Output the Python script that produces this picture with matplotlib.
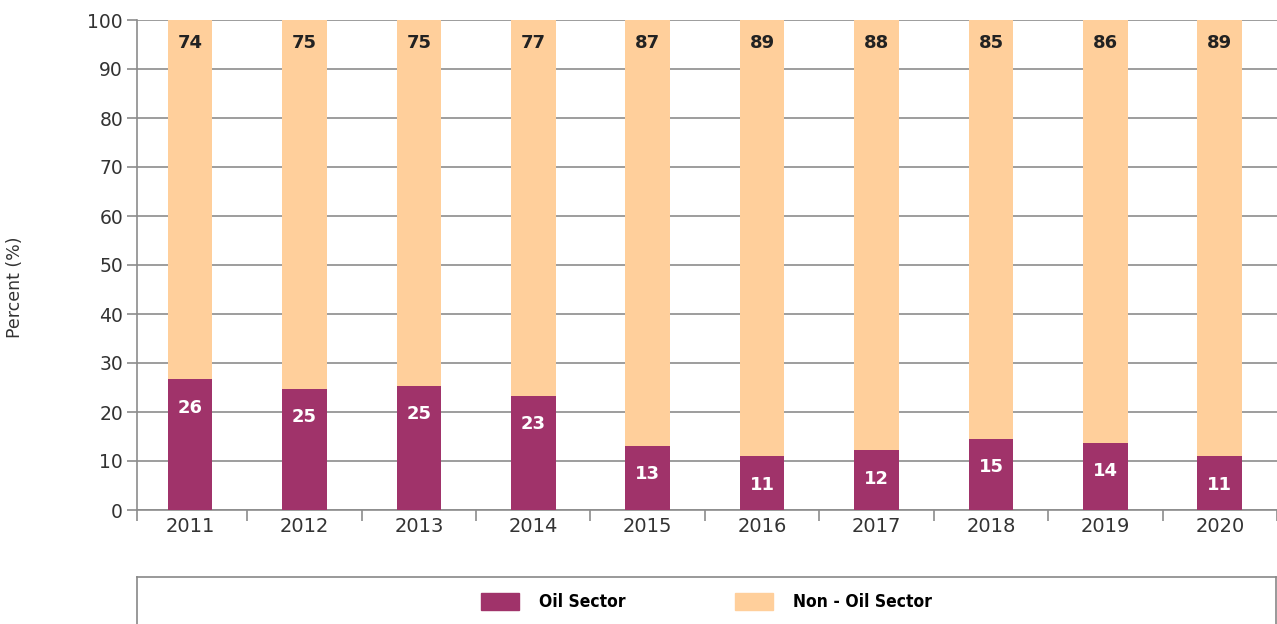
import matplotlib
matplotlib.use("Agg")
import matplotlib.pyplot as plt
from matplotlib.patches import Patch
import numpy as np

# Data
years = ["2011", "2012", "2013", "2014", "2015", "2016", "2017", "2018", "2019", "2020"]
oil = [26.7, 24.7, 25.4, 23.3, 13.1, 11.0, 12.2, 14.5, 13.7, 11.0]
non_oil = [100 - v for v in oil]
oil_labels = [26, 25, 25, 23, 13, 11, 12, 15, 14, 11]
non_oil_labels = [74, 75, 75, 77, 87, 89, 88, 85, 86, 89]

OIL_COLOR = "#A0336A"
NON_OIL_COLOR = "#FFCF9B"
GRID = "#8C8C8C"
TEXT = "#333333"

plt.rcParams["font.family"] = ["DejaVu Sans"]

fig = plt.figure(figsize=(12.77, 6.24), dpi=100)
ax = fig.add_axes([137 / 1277, 114 / 624, 1140 / 1277, 490 / 624])

x = np.arange(len(years))
width = 0.39
ax.bar(x, oil, width, color=OIL_COLOR, zorder=3)
ax.bar(x, non_oil, width, bottom=oil, color=NON_OIL_COLOR, zorder=3)

for xi, v, lab in zip(x, oil, oil_labels):
    ax.text(xi, v - 5.8, str(lab), ha="center", va="center", color="white",
            fontsize=13, fontweight="bold", zorder=4)
for xi, lab in zip(x, non_oil_labels):
    ax.text(xi, 95.4, str(lab), ha="center", va="center", color="#222222",
            fontsize=13, fontweight="bold", zorder=4)

x_left = -0.463
ax.set_xlim(x_left, len(years) - 0.5)
ax.set_ylim(0, 100)
ax.set_yticks(range(0, 101, 10))
ax.yaxis.grid(True, color=GRID, linewidth=1.2, zorder=0)
ax.tick_params(axis="y", length=7, color=GRID, width=1.2, labelsize=13.5,
               labelcolor=TEXT, pad=3)

# year labels at centres, tick marks at category boundaries
ax.set_xticks(x)
ax.set_xticklabels(years)
ax.set_xticks([x_left] + list(np.arange(0.5, len(years), 1.0)), minor=True)
ax.tick_params(axis="x", which="major", length=0, labelsize=14,
               labelcolor=TEXT, pad=5)
ax.tick_params(axis="x", which="minor", length=8, color=GRID, width=1.2)

for side in ["top", "right"]:
    ax.spines[side].set_visible(False)
ax.spines["left"].set_color(GRID)
ax.spines["left"].set_linewidth(1.2)
ax.spines["bottom"].set_color(GRID)
ax.spines["bottom"].set_linewidth(1.2)

ax.set_ylabel("Percent (%)", fontsize=12.5, color=TEXT)
ax.yaxis.set_label_coords(-0.099, 0.455)

# legend box
lax = fig.add_axes([137 / 1277, -0.05, 1139 / 1277, (47 / 624) + 0.05])
lax.set_xticks([])
lax.set_yticks([])
for s in lax.spines.values():
    s.set_color("#888888")
    s.set_linewidth(1.2)
handles = [Patch(color=OIL_COLOR, label="Oil Sector"),
           Patch(color=NON_OIL_COLOR, label="Non - Oil Sector")]
lax.legend(handles=handles, loc="center", bbox_to_anchor=(0.5, 0.68),
           ncol=2, frameon=False, handlelength=2.2, handleheight=1.1,
           columnspacing=6.3, handletextpad=1.15,
           prop={"family": ["Liberation Sans Narrow", "DejaVu Sans"],
                 "weight": "bold", "size": 12.5, "stretch": "condensed"})

fig.savefig("out.png", dpi=100)
